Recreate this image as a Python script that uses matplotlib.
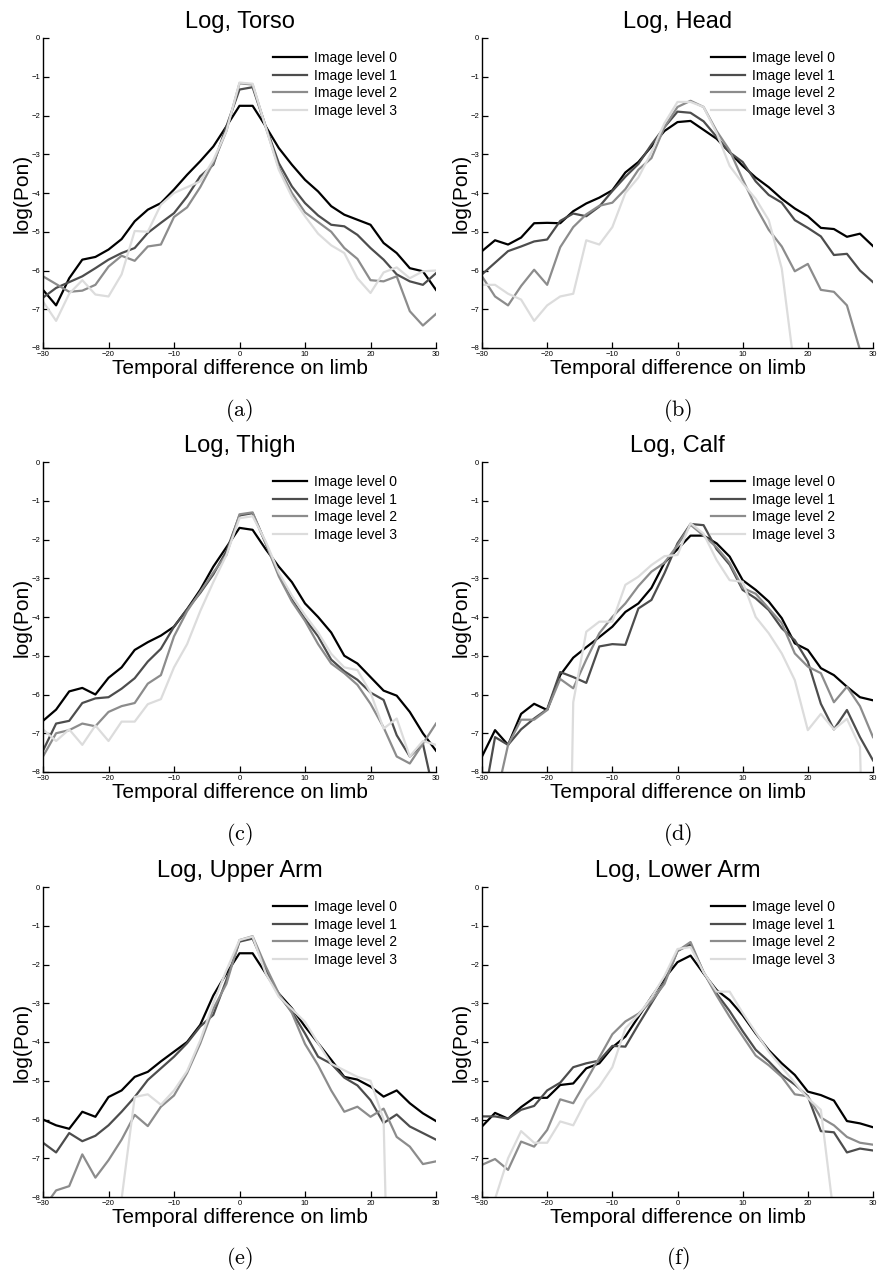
import matplotlib
matplotlib.use('Agg')
import matplotlib.pyplot as plt

plt.rcParams['font.family'] = ['Liberation Sans', 'DejaVu Sans']
plt.rcParams['mathtext.fontset'] = 'cm'

x = list(range(-30, 31, 2))

levels = ['Image level 0', 'Image level 1', 'Image level 2', 'Image level 3']
colors = ['#000000', '#4d4d4d', '#8c8c8c', '#dcdcdc']

torso_0 = [-6.5, -6.9, -6.2, -5.72, -5.65, -5.46, -5.19, -4.73, -4.43, -4.26, -3.91, -3.53, -3.18, -2.8, -2.28, -1.75,
           -1.75, -2.28, -2.84, -3.27, -3.66, -3.96, -4.34, -4.56, -4.69, -4.82, -5.29, -5.55, -5.94, -6.02, -6.5]
torso_1 = [-6.7, -6.45, -6.3, -6.15, -5.94, -5.72, -5.55, -5.42, -5.03, -4.77, -4.52, -4.09, -3.57, -3.27, -2.28, -1.33,
           -1.27, -2.28, -3.23, -3.83, -4.26, -4.58, -4.82, -4.86, -5.08, -5.42, -5.72, -6.1, -6.28, -6.37, -6.07]
torso_2 = [-6.15, -6.35, -6.55, -6.52, -6.37, -5.9, -5.62, -5.75, -5.38, -5.33, -4.62, -4.37, -3.85, -3.22, -2.4, -1.17,
           -1.2, -2.3, -3.35, -4.0, -4.5, -4.75, -5.0, -5.42, -5.7, -6.25, -6.28, -6.15, -7.05, -7.42, -7.12]
torso_3 = [-6.8, -7.3, -6.6, -6.25, -6.62, -6.67, -6.1, -4.98, -5.0, -4.3, -4.0, -3.85, -3.7, -3.15, -2.4, -1.15,
           -1.18, -2.3, -3.4, -4.1, -4.6, -5.05, -5.35, -5.55, -6.2, -6.58, -6.05, -5.92, -6.2, -6.02, -6.0]

head_0 = [-5.5, -5.22, -5.33, -5.15, -4.78, -4.77, -4.78, -4.47, -4.27, -4.12, -3.93, -3.47, -3.2, -2.8, -2.4, -2.17,
          -2.14, -2.37, -2.6, -2.95, -3.3, -3.6, -3.85, -4.15, -4.4, -4.6, -4.9, -4.93, -5.13, -5.05, -5.37]
head_1 = [-6.1, -5.8, -5.5, -5.38, -5.25, -5.2, -4.72, -4.53, -4.6, -4.35, -3.95, -3.58, -3.25, -2.75, -2.3, -1.9,
          -1.93, -2.15, -2.55, -2.95, -3.2, -3.7, -4.05, -4.25, -4.7, -4.9, -5.12, -5.6, -5.57, -6.0, -6.3]
head_2 = [-6.15, -6.67, -6.9, -6.4, -5.98, -6.37, -5.4, -4.88, -4.55, -4.33, -4.25, -3.9, -3.4, -3.1, -2.3, -1.78,
          -1.62, -1.78, -2.4, -2.9, -3.65, -4.35, -4.95, -5.38, -6.02, -5.83, -6.5, -6.55, -6.9, -8.05, -9.0]
head_3 = [-6.37, -6.37, -6.6, -6.75, -7.3, -6.9, -6.67, -6.6, -5.22, -5.33, -4.88, -4.0, -3.6, -2.95, -2.2, -1.65,
          -1.65, -1.78, -2.45, -3.3, -3.75, -4.15, -4.7, -5.95, -8.6, -12, -12, -12, -12, -12, -12]

thigh_0 = [-6.68, -6.39, -5.92, -5.83, -6.0, -5.57, -5.3, -4.85, -4.65, -4.48, -4.25, -3.8, -3.3, -2.7, -2.2, -1.7,
           -1.75, -2.25, -2.7, -3.1, -3.65, -4.0, -4.4, -5.0, -5.2, -5.55, -5.9, -6.03, -6.45, -7.0, -7.45]
thigh_1 = [-7.45, -6.75, -6.68, -6.22, -6.1, -6.07, -5.85, -5.58, -5.15, -4.82, -4.25, -3.8, -3.38, -2.9, -2.3, -1.38,
           -1.32, -2.1, -2.9, -3.55, -4.05, -4.5, -5.1, -5.4, -5.62, -5.95, -6.14, -7.05, -7.6, -7.27, -8.8]
thigh_2 = [-7.6, -7.0, -6.92, -6.75, -6.82, -6.45, -6.3, -6.22, -5.72, -5.5, -4.5, -3.85, -3.35, -2.85, -2.4, -1.35,
           -1.3, -2.1, -2.95, -3.6, -4.1, -4.7, -5.2, -5.45, -5.75, -6.24, -6.85, -7.6, -7.78, -7.27, -6.75]
thigh_3 = [-6.9, -7.2, -6.9, -7.3, -6.8, -7.2, -6.7, -6.7, -6.25, -6.12, -5.3, -4.7, -3.85, -3.1, -2.4, -1.45,
           -1.4, -2.05, -2.85, -3.45, -3.95, -4.4, -4.95, -5.3, -5.37, -5.95, -6.88, -6.62, -7.6, -7.2, -7.3]

calf_0 = [-7.6, -6.92, -7.3, -6.5, -6.24, -6.4, -5.5, -5.05, -4.78, -4.52, -4.25, -3.87, -3.65, -3.25, -2.6, -2.25,
          -1.9, -1.9, -2.1, -2.44, -3.05, -3.3, -3.6, -4.03, -4.68, -4.85, -5.32, -5.5, -5.8, -6.07, -6.15]
calf_1 = [-9.0, -7.1, -7.3, -6.9, -6.62, -6.38, -5.42, -5.55, -5.7, -4.76, -4.7, -4.72, -3.78, -3.56, -2.87, -2.1,
          -1.6, -1.63, -2.25, -2.65, -3.3, -3.52, -3.82, -4.29, -4.6, -5.15, -6.24, -6.9, -6.4, -7.1, -7.7]
calf_2 = [-10, -8.8, -7.3, -6.65, -6.65, -6.4, -5.6, -5.84, -5.1, -4.42, -4.0, -3.65, -3.2, -2.83, -2.6, -2.15,
          -1.62, -1.9, -2.2, -2.6, -3.25, -3.4, -3.78, -4.16, -4.94, -5.28, -5.45, -6.2, -5.8, -6.3, -7.1]
calf_3 = [-25, -25, -25, -25, -25, -25, -25, -6.2, -4.38, -4.12, -4.12, -3.17, -2.96, -2.66, -2.43, -2.4,
          -1.58, -1.85, -2.53, -3.05, -3.09, -4.0, -4.42, -4.94, -5.63, -6.92, -6.5, -6.9, -6.63, -7.35, -20]

upper_arm_0 = [-6.0, -6.15, -6.24, -5.8, -5.93, -5.42, -5.25, -4.9, -4.77, -4.5, -4.25, -4.0, -3.56, -2.8, -2.23, -1.71,
               -1.71, -2.23, -2.75, -3.13, -3.6, -4.03, -4.46, -4.9, -4.97, -5.15, -5.41, -5.25, -5.58, -5.84, -6.04]
upper_arm_1 = [-6.6, -6.85, -6.35, -6.56, -6.42, -6.15, -5.8, -5.42, -4.98, -4.68, -4.38, -4.03, -3.6, -3.3, -2.4, -1.41,
               -1.33, -2.1, -2.8, -3.22, -3.78, -4.38, -4.56, -4.92, -5.12, -5.5, -6.09, -5.87, -6.18, -6.35, -6.52]
upper_arm_2 = [-8.3, -7.83, -7.72, -6.9, -7.5, -7.05, -6.52, -5.88, -6.17, -5.67, -5.38, -4.8, -4.04, -3.14, -2.5, -1.37,
               -1.27, -2.05, -2.75, -3.25, -4.05, -4.6, -5.25, -5.8, -5.67, -5.93, -5.72, -6.45, -6.7, -7.15, -7.08]
upper_arm_3 = [-20, -20, -20, -20, -20, -20, -8.05, -5.42, -5.35, -5.62, -5.25, -4.75, -3.96, -3.0, -2.15, -1.37,
               -1.28, -2.23, -2.83, -3.15, -3.48, -4.03, -4.56, -4.73, -4.9, -5.0, -6.0, -20, -20, -20, -20]

lower_arm_0 = [-6.18, -5.83, -5.98, -5.68, -5.44, -5.44, -5.11, -5.07, -4.68, -4.55, -4.14, -3.86, -3.35, -2.84, -2.36, -1.94,
               -1.77, -2.23, -2.66, -2.92, -3.31, -3.78, -4.21, -4.55, -4.85, -5.28, -5.37, -5.51, -6.04, -6.1, -6.2]
lower_arm_1 = [-5.92, -5.92, -5.98, -5.75, -5.65, -5.25, -5.05, -4.65, -4.55, -4.48, -4.1, -4.12, -3.55, -3.0, -2.45, -1.65,
               -1.48, -2.2, -2.75, -3.2, -3.72, -4.2, -4.5, -4.85, -5.1, -5.4, -6.3, -6.33, -6.85, -6.75, -6.8]
lower_arm_2 = [-7.17, -7.02, -7.3, -6.57, -6.7, -6.27, -5.48, -5.58, -5.0, -4.4, -3.8, -3.47, -3.27, -2.95, -2.5, -1.65,
               -1.42, -2.2, -2.8, -3.35, -3.85, -4.35, -4.6, -4.9, -5.35, -5.4, -5.95, -6.15, -6.45, -6.6, -6.65]
lower_arm_3 = [-20, -8.05, -7.0, -6.3, -6.6, -6.6, -6.05, -6.15, -5.5, -5.15, -4.65, -3.65, -3.3, -2.85, -2.3, -1.6,
               -1.55, -2.2, -2.7, -2.7, -3.25, -3.75, -4.25, -4.65, -5.05, -5.45, -5.75, -8.5, -20, -20, -20]

panels = [
    ('Log, Torso', [torso_0, torso_1, torso_2, torso_3], '(a)'),
    ('Log, Head', [head_0, head_1, head_2, head_3], '(b)'),
    ('Log, Thigh', [thigh_0, thigh_1, thigh_2, thigh_3], '(c)'),
    ('Log, Calf', [calf_0, calf_1, calf_2, calf_3], '(d)'),
    ('Log, Upper Arm', [upper_arm_0, upper_arm_1, upper_arm_2, upper_arm_3], '(e)'),
    ('Log, Lower Arm', [lower_arm_0, lower_arm_1, lower_arm_2, lower_arm_3], '(f)'),
]

W, H = 880, 1276
fig = plt.figure(figsize=(W / 100, H / 100), dpi=100)

col_left = [43, 482]
col_width = [393, 391]
row_top = [38, 462, 887]
ax_h = 310


def draw_panel(ax, title, series):
    for vals, lab, c in zip(series, levels, colors):
        ax.plot(x, vals, color=c, lw=1.6, label=lab)
    ax.set_xlim(-30, 30)
    ax.set_ylim(-8, 0)
    ax.set_xticks([-30, -20, -10, 0, 10, 20, 30])
    ax.set_yticks(range(-8, 1))
    for s in ['top', 'right']:
        ax.spines[s].set_visible(False)
    for s in ['left', 'bottom']:
        ax.spines[s].set_linewidth(1.0)
    ax.tick_params(direction='in', length=4, width=0.9, labelsize=5.5, pad=2)
    ax.set_title(title, fontsize=17, pad=7)
    ax.set_xlabel('Temporal difference on limb', fontsize=15, labelpad=1)
    ax.set_ylabel('log(Pon)', fontsize=15, labelpad=0)
    ax.legend(loc='upper left', bbox_to_anchor=(0.572, 0.975), frameon=False, fontsize=10,
              handlelength=2.4, handletextpad=0.55, labelspacing=0.25, borderaxespad=0)


for i, (title, series, letter) in enumerate(panels):
    r, c = divmod(i, 2)
    left = col_left[c] / W
    bottom = 1 - (row_top[r] + ax_h) / H
    ax = fig.add_axes([left, bottom, col_width[c] / W, ax_h / H])
    draw_panel(ax, title, series)
    cx = (col_left[c] + col_width[c] / 2) / W
    cy = 1 - (row_top[r] + ax_h + 62) / H
    fig.text(cx, cy, r'$\mathrm{' + letter + '}$', ha='center', va='center', fontsize=16)

fig.savefig('out.png', dpi=100)
